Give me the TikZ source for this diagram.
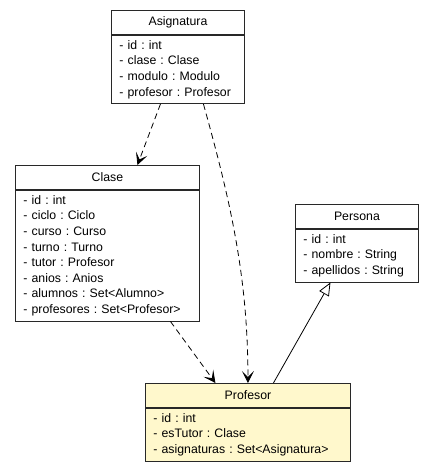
\documentclass[tikz,border=0pt]{standalone}
\usepackage{fontspec}
\setmainfont{Liberation Sans}
\usepackage{xcolor}
\usepackage{tikz}
\usetikzlibrary{arrows.meta, positioning}
\definecolor{umlline}{RGB}{40,40,40}
\definecolor{umlyellow}{RGB}{255,248,204}
\frenchspacing
\tikzset{
    classhead/.style={rectangle, draw=umlline, line width=0.9pt, fill=white,
                      anchor=north west, inner sep=0pt, minimum height=24pt,
                      text centered, font=\fontsize{12.3}{14}\selectfont},
    classbody/.style={rectangle, draw=umlline, line width=0.9pt, fill=white,
                      align=left, inner xsep=8pt, inner ysep=5pt,
                      font=\fontsize{12.3}{15.6}\selectfont},
    dep/.style={dash pattern=on 6pt off 4pt, line width=0.8pt,
                -{Stealth[length=12pt, width=12pt, inset=6pt]}},
    inherit/.style={line width=0.8pt, -{Triangle[open, length=13pt, width=11pt, fill=white]}}
}

\begin{document}
\begin{tikzpicture}[x=1pt, y=-1pt]
    \useasboundingbox (0,0) rectangle (437,475);

    % classes
    \node[classhead, minimum width=133pt] (asigH) at (111,10) {Asignatura};
    \node[classbody, below=0pt of asigH, text width=117pt] (asigB)
        {- id : int\\- clase : Clase\\- modulo : Modulo\\- profesor : Profesor};

    \node[classhead, minimum width=184pt] (claseH) at (15,165) {Clase};
    \node[classbody, below=0pt of claseH, text width=168pt] (claseB)
        {- id : int\\- ciclo : Ciclo\\- curso : Curso\\- turno : Turno\\- tutor : Profesor\\- anios : Anios\\- alumnos : Set<Alumno>\\- profesores : Set<Profesor>};

    \node[classhead, minimum width=123pt] (persH) at (295,204) {Persona};
    \node[classbody, below=0pt of persH, text width=107pt] (persB)
        {- id : int\\- nombre : String\\- apellidos : String};

    \node[classhead, fill=umlyellow, minimum width=205pt] (profH) at (145,383) {Profesor};
    \node[classbody, fill=umlyellow, below=0pt of profH, text width=189pt] (profB)
        {- id : int\\- esTutor : Clase\\- asignaturas : Set<Asignatura>};

    % relations
    \draw[dep] ([xshift=-17.5pt]asigB.south) -- ([xshift=30pt]claseH.north);
    \draw[dep] ([xshift=25.5pt]asigB.south) .. controls +(25,90) and +(0,-110) .. (profH.north);
    \draw[dep] ([xshift=63pt]claseB.south) -- ([xshift=-32.5pt]profH.north);
    \draw[inherit] ([xshift=25.5pt]profH.north) -- ([xshift=-26.5pt]persB.south);
\end{tikzpicture}
\end{document}
